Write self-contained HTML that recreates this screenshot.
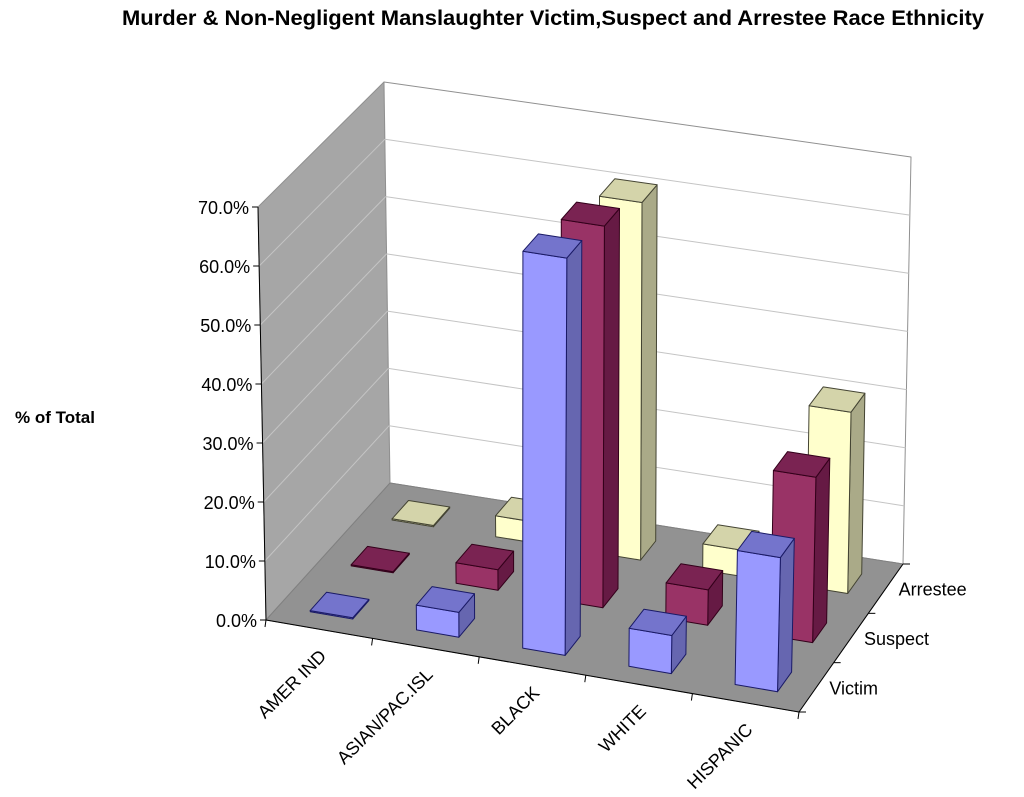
<!DOCTYPE html>
<html><head><meta charset="utf-8"><style>
html,body{margin:0;padding:0;background:#fff;}
svg{display:block;font-family:"Liberation Sans",Arial,sans-serif;}
</style></head><body>
<svg id="chart" width="1024" height="797" viewBox="0 0 1024 797" xmlns="http://www.w3.org/2000/svg">
<text x="553" y="25" text-anchor="middle" font-size="21" font-weight="bold" fill="#000" textLength="862" lengthAdjust="spacingAndGlyphs">Murder &amp; Non-Negligent Manslaughter Victim,Suspect and Arrestee Race Ethnicity</text>
<text x="15" y="423" font-size="17" font-weight="bold" fill="#000">% of Total</text>
<g id="walls"></g><g id="bars"></g><g id="axes"></g>
</svg>
<script>
const categories = ["AMER IND","ASIAN/PAC.ISL","BLACK","WHITE","HISPANIC"];
const seriesNames = ["Victim","Suspect","Arrestee"];
const victim = [0.2, 4.2, 67.0, 6.4, 22.5];
const suspect = [0.2, 3.5, 65.0, 6.0, 28.0];
const arrestee = [0.2, 3.6, 61.5, 4.5, 31.0];
const yTicks = [0,10,20,30,40,50,60,70];
const yTickLabels = ["0.0%","10.0%","20.0%","30.0%","40.0%","50.0%","60.0%","70.0%"];
const yMax = 70;

const NS="http://www.w3.org/2000/svg";
const F0=[266,620],F1=[799,712],B0=[390,483],B1=[903,564];
const VF0=[-8,-413],VF1=[10,-419],VB0=[-6,-401],VB1=[8,-407];
function bl(a,b,c,d,u,v){const f=[a[0]+(b[0]-a[0])*u,a[1]+(b[1]-a[1])*u];const k=[c[0]+(d[0]-c[0])*u,c[1]+(d[1]-c[1])*u];return [f[0]+(k[0]-f[0])*v,f[1]+(k[1]-f[1])*v];}
function proj(u,v,z){const p=bl(F0,F1,B0,B1,u,v);const h=bl(VF0,VF1,VB0,VB1,u,v);const t=z/yMax;return [p[0]+h[0]*t,p[1]+h[1]*t];}
function pts(a){return a.map(p=>p[0].toFixed(1)+","+p[1].toFixed(1)).join(" ");}
function poly(g,a,fill,stroke,name){const e=document.createElementNS(NS,"polygon");e.setAttribute("points",pts(a));e.setAttribute("fill",fill);e.setAttribute("stroke",stroke);e.setAttribute("stroke-width","1");e.setAttribute("stroke-linejoin","round");


g.appendChild(e);return e;}
function line(g,a,b,stroke,w,name){const e=document.createElementNS(NS,"line");e.setAttribute("x1",a[0]);e.setAttribute("y1",a[1]);e.setAttribute("x2",b[0]);e.setAttribute("y2",b[1]);e.setAttribute("stroke",stroke);e.setAttribute("stroke-width",w);


g.appendChild(e);}
function text(g,x,y,s,anchor,size,name,rot){const e=document.createElementNS(NS,"text");e.setAttribute("x",x);e.setAttribute("y",y);e.setAttribute("text-anchor",anchor);e.setAttribute("font-size",size);e.setAttribute("fill","#000");if(rot)e.setAttribute("transform","rotate("+rot+" "+x+" "+y+")");e.textContent=s;


g.appendChild(e);}

const W=document.getElementById("walls"),Bg=document.getElementById("bars"),A=document.getElementById("axes");
poly(W,[proj(0,0,0),proj(0,0,yMax),proj(0,1,yMax),proj(0,1,0)],"#a6a6a6","#909090","left-wall");
poly(W,[proj(0,1,0),proj(0,1,yMax),proj(1,1,yMax),proj(1,1,0)],"#ffffff","#909090","back-wall");
poly(W,[proj(0,0,0),proj(1,0,0),proj(1,1,0),proj(0,1,0)],"#929292","#808080","floor");
yTicks.forEach((t,i)=>{if(t===0||t===yMax)return;
 line(W,proj(0,0,t),proj(0,1,t),"#c4c4c4",1,"left-wall-gridline");
 line(W,proj(0,1,t),proj(1,1,t),"#c4c4c4",1,"back-wall-gridline");});
const series=[victim,suspect,arrestee];
const colors=[["#9999ff","#7474cc","#6666b0","#1a1a66"],["#993366","#7a2352","#661a44","#33001a"],["#ffffcc","#d4d4aa","#aaaa88","#444433"]];
for(let j=2;j>=0;j--){
 const vals=series[j];
 for(let i=0;i<categories.length;i++){
  const z=vals[i];const u0=(i+0.3)/5,u1=(i+0.7)/5,v0=(j+0.3)/3,v1=(j+0.7)/3;const c=colors[j];
  const nm=seriesNames[j].toLowerCase()+"-bar-"+categories[i].toLowerCase().replace(/[^a-z]+/g,"-");
  poly(Bg,[proj(u1,v0,0),proj(u1,v1,0),proj(u1,v1,z),proj(u1,v0,z)],c[2],c[3],nm+"-side");
  poly(Bg,[proj(u0,v0,0),proj(u1,v0,0),proj(u1,v0,z),proj(u0,v0,z)],c[0],c[3],nm);
  poly(Bg,[proj(u0,v0,z),proj(u1,v0,z),proj(u1,v1,z),proj(u0,v1,z)],c[1],c[3],nm+"-top");
 }
}
line(A,proj(0,0,0),proj(0,0,yMax),"#000",1,"y-axis-line");
line(A,proj(0,0,0),proj(1,0,0),"#000",1,"x-axis-line");
line(A,proj(1,0,0),proj(1,1,0),"#000",1,"depth-axis-line");
yTicks.forEach((t,i)=>{const p=proj(0,0,t);
 line(A,[p[0]-6,p[1]],p,"#000",1,"y-tick");
 text(A,p[0]-9,p[1]+7,yTickLabels[i],"end",18,"y-tick-label");});
for(let k=0;k<=categories.length;k++){const p=proj(k/5,0,0);line(A,p,[p[0]-1,p[1]+7],"#000",1,"x-tick");}
categories.forEach((c,i)=>{const p=proj((i+0.5)/5,0,0);text(A,p[0]+8,p[1]+28,c,"end",18,"x-tick-label",-45);});
for(let k=0;k<=3;k++){const p=proj(1,k/3,0);line(A,p,[p[0]+7,p[1]],"#000",1,"depth-tick");}
seriesNames.forEach((s,j)=>{const p=proj(1,(j+0.5)/3,0);text(A,p[0]+13,p[1]+7,s,"start",18,"depth-label-"+s.toLowerCase());});
</script>
</body></html>
